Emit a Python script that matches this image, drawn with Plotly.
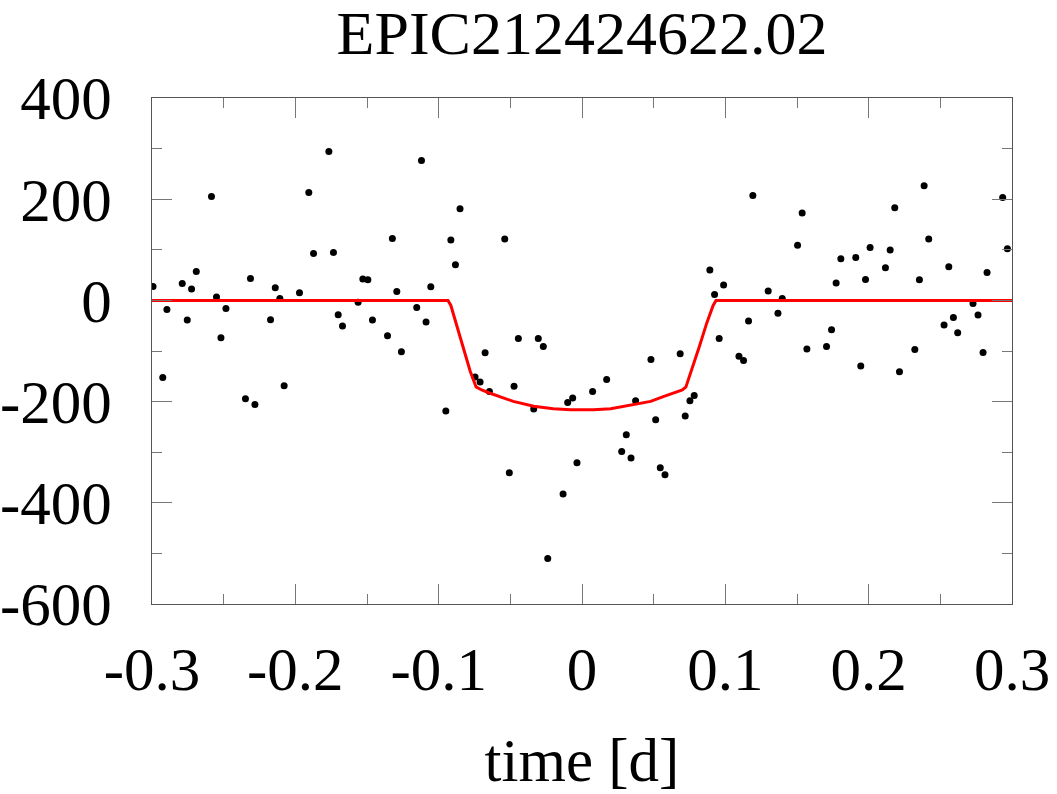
import plotly.graph_objects as go

# Observed data (time [d], flux [ppm])
time = [-0.2993, -0.2925, -0.2896, -0.2789, -0.2754, -0.2724, -0.2691, -0.2585, -0.2550, -0.2519,
        -0.2484, -0.2348, -0.2313, -0.2282, -0.2173, -0.2140, -0.2108, -0.2078, -0.1971, -0.1906,
        -0.1873, -0.1766, -0.1734, -0.1701, -0.1671, -0.1562, -0.1529, -0.1494, -0.1462, -0.1357,
        -0.1323, -0.1292, -0.1260, -0.1153, -0.1120, -0.1088, -0.1055, -0.0950, -0.0915, -0.0883,
        -0.0851, -0.0746, -0.0711, -0.0676, -0.0646, -0.0539, -0.0507, -0.0474, -0.0444, -0.0337,
        -0.0305, -0.0270, -0.0239, -0.0132, -0.0100, -0.0065, -0.0035, 0.0074, 0.0172, 0.0277,
        0.0309, 0.0342, 0.0374, 0.0481, 0.0514, 0.0546, 0.0579, 0.0685, 0.0720, 0.0753,
        0.0783, 0.0892, 0.0925, 0.0957, 0.0988, 0.1095, 0.1127, 0.1162, 0.1192, 0.1299,
        0.1367, 0.1397, 0.1504, 0.1536, 0.1569, 0.1706, 0.1741, 0.1773, 0.1806, 0.1910,
        0.1945, 0.1978, 0.2010, 0.2117, 0.2150, 0.2182, 0.2215, 0.2322, 0.2354, 0.2387,
        0.2419, 0.2526, 0.2559, 0.2591, 0.2621, 0.2728, 0.2763, 0.2798, 0.2826, 0.2935,
        0.2968]
flux = [27.7, -152.2, -17.8, 33.6, -38.8, 22.5, 57.3, 205.5, 6.7, -73.7,
        -15.8, -194.3, 43.5, -205.5, -38.1, 25.1, 4.0, -168.6, 15.2, 213.4,
        92.9, 294.5, 94.9, -28.3, -50.6, -3.9, 42.3, 40.9, -38.8, -69.8,
        122.5, 17.8, -101.4, -13.8, 276.7, -42.7, 27.1, -218.6, 119.4, 70.6,
        181.2, -151.4, -161.3, -103.4, -179.8, 121.3, -340.5, -169.9, -75.1, -214.6,
        -75.1, -90.9, -509.9, -382.6, -201.6, -192.9, -320.8, -179.8, -156.1, -298.4,
        -265.4, -311.5, -198.2, -116.6, -235.8, -330.6, -344.5, -105.3, -228.5, -198.2,
        -187.7, 60.1, 11.9, -75.4, 30.4, -110.6, -118.6, -40.8, 207.5, 18.5,
        -25.6, 4.0, 108.8, 172.7, -96.1, -90.9, -57.9, 34.4, 82.4, 85.0,
        -129.7, 41.5, 104.7, 64.6, 99.6, 183.2, -140.9, -96.8, 40.9, 226.7,
        121.3, -48.6, 66.6, -33.6, -63.8, -5.9, -28.9, -102.8, 55.3, 203.6,
        102.2]

# Model curve
model_time = [-0.30, -0.0935, -0.0915, -0.087, -0.082, -0.078, -0.0739, -0.070, -0.0646, -0.055,
              -0.0479, -0.0337, -0.020, -0.008, 0.0, 0.008, 0.020, 0.0374, 0.0479, 0.0567,
              0.0646, 0.070, 0.0725, 0.0775, 0.082, 0.087, 0.0915, 0.0935, 0.30]
model_flux = [0, 0, -10, -55, -100, -140, -171, -177, -183, -193,
              -199.6, -209, -214, -216, -216, -216, -214, -205, -199.6, -190,
              -183, -177, -171, -130, -90, -45, -10, 0, 0]

x_ticks = [-0.3, -0.2, -0.1, 0, 0.1, 0.2, 0.3]
x_labels = ["-0.3", "-0.2", "-0.1", "0", "0.1", "0.2", "0.3"]
y_ticks = [400, 200, 0, -200, -400, -600]
y_labels = ["400", "200", "0", "-200", "-400", "-600"]

FONT = "Liberation Serif, Times New Roman, serif"

fig = go.Figure()
fig.add_trace(go.Scatter(x=time, y=flux, mode="markers",
                         marker=dict(color="black", size=7), showlegend=False))
fig.add_trace(go.Scatter(x=model_time, y=model_flux, mode="lines",
                         line=dict(color="#ff0000", width=3), showlegend=False))

axis_common = dict(showgrid=False, zeroline=False, showline=True, linecolor="#555555",
                   linewidth=1, mirror="ticks", ticks="inside", ticklen=20, tickcolor="#777777",
                   tickwidth=1, automargin=False,
                   tickfont=dict(family=FONT, size=61, color="black"))

fig.update_xaxes(range=[-0.3, 0.3], tickvals=x_ticks, ticktext=x_labels,
                 minor=dict(dtick=0.05, tick0=0, ticks="inside", ticklen=10, tickcolor="#777777"),
                 ticklabelstandoff=12,
                 title=dict(text="time [d]", font=dict(family=FONT, size=61, color="black"), standoff=36),
                 **axis_common)
fig.update_yaxes(range=[-600, 400], tickvals=y_ticks, ticktext=y_labels,
                 minor=dict(dtick=100, tick0=0, ticks="inside", ticklen=10, tickcolor="#777777"),
                 ticklabelstandoff=27,
                 **axis_common)

fig.update_layout(
    width=1057, height=794,
    margin=dict(l=152, r=45, t=98, b=190, autoexpand=False),
    paper_bgcolor="white", plot_bgcolor="white",
    title=dict(text="EPIC212424622.02", x=0.5, xref="paper", xanchor="center",
               y=1, yref="paper", yanchor="bottom", pad=dict(b=44),
               font=dict(family=FONT, size=62, color="black")),
)

fig.write_html("out.html")
